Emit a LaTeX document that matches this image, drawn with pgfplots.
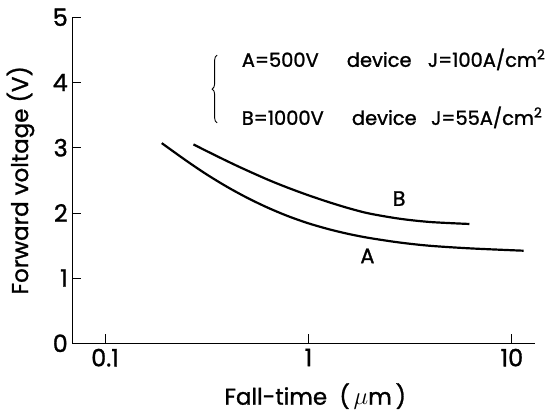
\documentclass[border=0pt]{standalone}
\usepackage{pgfplots}
\pgfplotsset{compat=1.18}
\usepackage{fontspec}
\setmainfont{Poppins}[FakeBold=1.2]
\usetikzlibrary{decorations.pathreplacing}

% curves
\pgfplotstableread{
x      y
0.190  3.07
0.251  2.80
0.316  2.59
0.398  2.40
0.501  2.23
0.631  2.08
0.794  1.95
1.000  1.84
1.259  1.75
1.585  1.675
1.995  1.615
2.818  1.545
3.981  1.495
6.310  1.455
11.43  1.42
}\curveA
\pgfplotstableread{
x      y
0.272  3.05
0.355  2.87
0.461  2.70
0.631  2.51
0.794  2.385
1.000  2.27
1.259  2.165
1.585  2.07
1.995  1.99
2.818  1.91
3.981  1.86
6.19   1.83
}\curveB

\begin{document}
\begin{tikzpicture}
\begin{axis}[
    scale only axis,
    width=462.7bp, height=326bp,
    xmode=log,
    xmin=0.069, xmax=13.0,
    ymin=0, ymax=5,
    axis x line=bottom, axis y line=left,
    axis line style={-, line width=1.5pt},
    xtick={0.1,1,10}, xticklabels={0.1,1,10},
    ytick={0,1,2,3,4,5},
    xminorticks=false,
    tick align=inside,
    major tick length=9bp,
    tick style={line width=0.8pt, black},
    /pgf/number format/assume math mode=true,
    xticklabel style={font=\fontsize{24}{24}\selectfont, yshift=-2bp},
    yticklabel style={font=\fontsize{24}{24}\selectfont, xshift=-1bp},
    xlabel={Fall-time~~(\,$\mu$m\,)},
    ylabel={Forward voltage (V)},
    label style={font=\fontsize{23}{23}\selectfont},
    xlabel style={at={(axis description cs:0.525,-0.163)}, anchor=center},
    ylabel style={at={(axis description cs:-0.112,0.5)}, anchor=center},
    clip=false,
]
\addplot[smooth, line width=2.2pt, black] table[x=x, y=y] {\curveA};
\addplot[smooth, line width=2.2pt, black] table[x=x, y=y] {\curveB};

\node[font=\fontsize{21}{21}\selectfont] at (axis cs:1.95,1.34) {A};
\node[font=\fontsize{21}{21}\selectfont] at (axis cs:2.79,2.22) {B};

\begin{scope}[every node/.style={anchor=base west, inner sep=0pt, font=\fontsize{19.5}{19.5}\selectfont}]
\node at (axis description cs:0.366,0.848) {A=500V};
\node at (axis description cs:0.593,0.848) {device};
\node at (axis description cs:0.768,0.848) {J=100A/cm\textsuperscript{2}};
\node at (axis description cs:0.366,0.670) {B=1000V};
\node at (axis description cs:0.604,0.670) {device};
\node at (axis description cs:0.775,0.670) {J=55A/cm\textsuperscript{2}};
\end{scope}
\draw[line width=0.9pt, decorate, decoration={brace, amplitude=5bp}]
    (axis description cs:0.313,0.676) -- (axis description cs:0.313,0.884);
\end{axis}
\pgfresetboundingbox
\useasboundingbox (-72.3bp,-70.7bp) rectangle (476.7bp,343.3bp);
\end{tikzpicture}
\end{document}
